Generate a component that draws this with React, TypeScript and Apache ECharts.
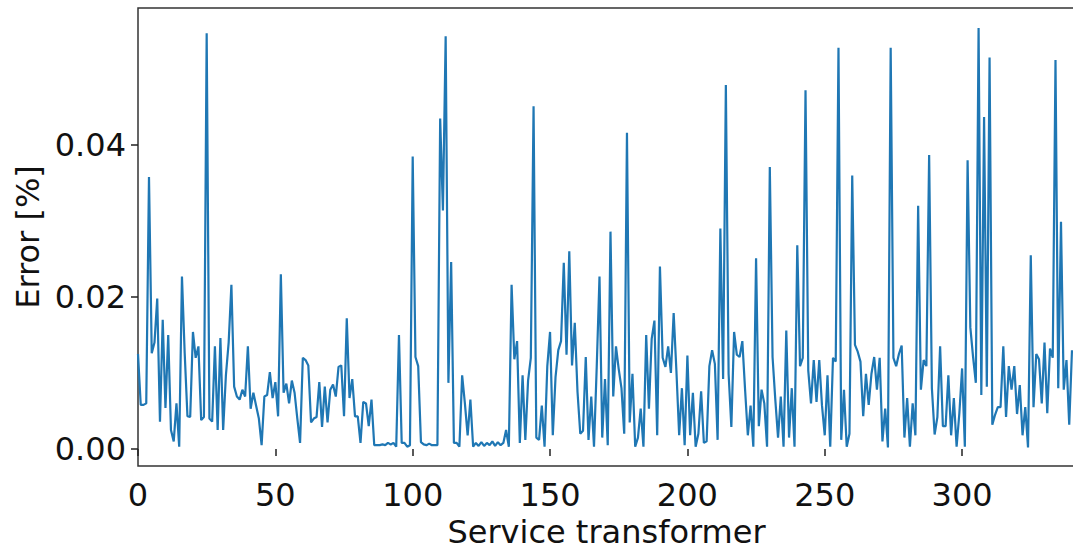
import React, { useEffect, useRef } from "react";
import * as echarts from "echarts";

const errors: number[] = [
  0.0125, 0.0058, 0.0058, 0.006, 0.0358, 0.0126, 0.014, 0.0198, 0.0036, 0.017,
  0.0054, 0.015, 0.0025, 0.001, 0.006, 0.0003, 0.0227, 0.0126, 0.0043, 0.0042,
  0.0154, 0.012, 0.0135, 0.0038, 0.0042, 0.0547, 0.004, 0.0036, 0.0135, 0.0025,
  0.0146, 0.0025, 0.0097, 0.014, 0.0216, 0.0082, 0.0069, 0.0065, 0.0078, 0.0069,
  0.0135, 0.0053, 0.0074, 0.0057, 0.004, 0.0005, 0.0069, 0.0071, 0.0101, 0.0067,
  0.0088, 0.0043, 0.023, 0.0074, 0.0086, 0.006, 0.009, 0.0074, 0.004, 0.0008,
  0.012, 0.0117, 0.011, 0.0035, 0.004, 0.0042, 0.0088, 0.0029, 0.0082, 0.0035,
  0.0078, 0.0085, 0.0069, 0.0108, 0.011, 0.0043, 0.0172, 0.0067, 0.0092, 0.0043,
  0.0043, 0.0008, 0.0062, 0.006, 0.003, 0.0065, 0.0005, 0.0005, 0.0005, 0.0006,
  0.0005, 0.0008, 0.0006, 0.0008, 0.0003, 0.015, 0.0008, 0.0008, 0.0003, 0.0005,
  0.0385, 0.0121, 0.0109, 0.0009, 0.0006, 0.0005, 0.0007, 0.0005, 0.0005, 0.0005,
  0.0435, 0.0314, 0.0543, 0.0087, 0.0246, 0.0008, 0.0008, 0.0003, 0.0097, 0.006,
  0.0018, 0.0065, 0.0003, 0.0008, 0.0004, 0.0009, 0.0004, 0.0008, 0.0005, 0.001,
  0.0004, 0.0009, 0.0005, 0.0008, 0.0025, 0.0003, 0.0216, 0.0118, 0.0142, 0.0008,
  0.0097, 0.0012, 0.009, 0.012, 0.0451, 0.0015, 0.0012, 0.0057, 0.0003, 0.0109,
  0.0154, 0.0018, 0.0095, 0.013, 0.0142, 0.0245, 0.0124, 0.026, 0.011, 0.0166,
  0.0075, 0.002, 0.0024, 0.0121, 0.0012, 0.0069, 0.0003, 0.0109, 0.0227, 0.0015,
  0.0092, 0.0005, 0.0286, 0.0069, 0.0135, 0.0105, 0.008, 0.002, 0.0416, 0.0035,
  0.0099, 0.0003, 0.0015, 0.0053, 0.0003, 0.015, 0.0053, 0.0145, 0.0169, 0.0018,
  0.024, 0.012, 0.0108, 0.0135, 0.01, 0.0179, 0.0103, 0.0018, 0.008, 0.0005,
  0.0123, 0.0018, 0.0074, 0.0003, 0.002, 0.0076, 0.0008, 0.001, 0.0109, 0.013,
  0.0112, 0.0012, 0.029, 0.0092, 0.0479, 0.0099, 0.0029, 0.0154, 0.0124, 0.0121,
  0.0142, 0.0078, 0.0018, 0.0057, 0.0003, 0.0251, 0.003, 0.0078, 0.006, 0.0003,
  0.0371, 0.0121, 0.0065, 0.0015, 0.0069, 0.0003, 0.0156, 0.0015, 0.008, 0.0003,
  0.0268, 0.0109, 0.012, 0.0472, 0.0103, 0.006, 0.0117, 0.0062, 0.0117, 0.0057,
  0.0018, 0.0097, 0.0003, 0.012, 0.0115, 0.0528, 0.0012, 0.0078, 0.0003, 0.002,
  0.036, 0.0137, 0.0128, 0.0115, 0.0043, 0.0099, 0.0058, 0.0099, 0.0121, 0.0078,
  0.012, 0.001, 0.0053, 0.0002, 0.0528, 0.012, 0.0109, 0.0125, 0.0136, 0.0015,
  0.0067, 0.0003, 0.006, 0.0018, 0.032, 0.0078, 0.0117, 0.0109, 0.0387, 0.008,
  0.0019, 0.0042, 0.0135, 0.003, 0.003, 0.0097, 0.0018, 0.0067, 0.0003, 0.0047,
  0.0106, 0.0003, 0.038, 0.016, 0.0121, 0.0087, 0.0554, 0.0071, 0.0437, 0.0082,
  0.0515, 0.0032, 0.0045, 0.0055, 0.0055, 0.0135, 0.0042, 0.0109, 0.0078, 0.0109,
  0.0046, 0.0084, 0.0018, 0.0055, 0.0002, 0.0255, 0.0055, 0.0125, 0.0118, 0.006,
  0.014, 0.0047, 0.0132, 0.012, 0.0512, 0.008, 0.0299, 0.0078, 0.0117, 0.0032,
  0.013,
];

const xTicks: number[] = [0, 50, 100, 150, 200, 250, 300];
const yTicks: number[] = [0, 0.02, 0.04];

const FONT = "DejaVu Sans";

export default function App() {
  const ref = useRef<HTMLDivElement>(null);

  useEffect(() => {
    if (!ref.current) return;
    const chart = echarts.init(ref.current, undefined, { renderer: "svg" });
    chart.setOption({
      animation: false,
      backgroundColor: "#ffffff",
      grid: {
        left: 138,
        top: 8,
        width: 937,
        height: 458,
        show: true,
        borderColor: "#333333",
        borderWidth: 1.5,
        containLabel: false,
        outerBoundsMode: "none",
      },
      xAxis: {
        type: "value",
        min: 0,
        max: 341.1,
        name: "Service transformer",
        nameLocation: "middle",
        nameGap: 50,
        nameTextStyle: { fontFamily: FONT, fontSize: 32, color: "#111" },
        axisLine: { show: false },
        splitLine: { show: false },
        axisTick: {
          show: true,
          customValues: xTicks,
          length: 7,
          lineStyle: { color: "#222", width: 1.5 },
        },
        axisLabel: {
          customValues: xTicks,
          fontFamily: FONT,
          fontSize: 32,
          color: "#111",
          margin: 13,
          formatter: (v: number) => String(v),
        },
      },
      yAxis: {
        type: "value",
        min: -0.00224,
        max: 0.05803,
        name: "Error [%]",
        nameLocation: "middle",
        nameGap: 94,
        nameRotate: 90,
        nameTextStyle: { fontFamily: FONT, fontSize: 32, color: "#111" },
        axisLine: { show: false },
        splitLine: { show: false },
        axisTick: {
          show: true,
          customValues: yTicks,
          length: 7,
          lineStyle: { color: "#222", width: 1.5 },
        },
        axisLabel: {
          customValues: yTicks,
          fontFamily: FONT,
          fontSize: 32,
          color: "#111",
          margin: 12,
          formatter: (v: number) => v.toFixed(2),
        },
      },
      series: [
        {
          type: "line",
          data: errors.map((v, i) => [i, v]),
          showSymbol: false,
          symbol: "none",
          lineStyle: { color: "#1f77b4", width: 2.2 },
          clip: true,
        },
      ],
    });
    return () => chart.dispose();
  }, []);

  return (
    <div
      ref={ref}
      style={{ position: "fixed", left: 0, top: 0, width: 1073, height: 550, background: "#fff" }}
    />
  );
}
